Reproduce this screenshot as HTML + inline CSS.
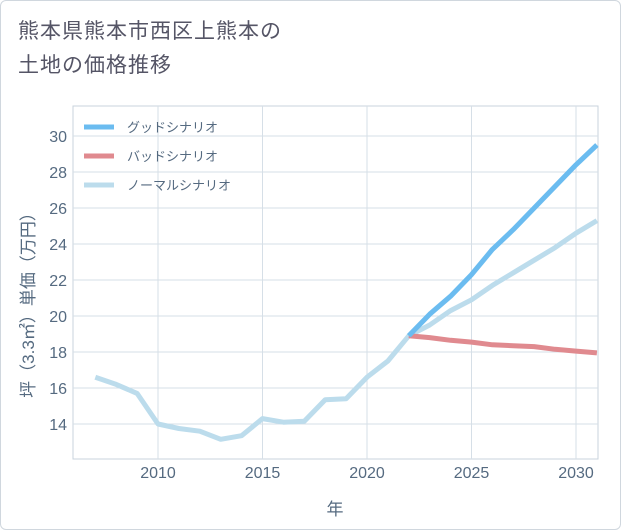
<!DOCTYPE html>
<html><head><meta charset="utf-8"><style>
body{margin:0;background:#fff;font-family:"Liberation Sans","Noto Sans CJK JP",sans-serif;}
#wrap{position:relative;width:619px;height:528px;border:1px solid #d0d7de;border-radius:6px;background:#fff;overflow:hidden}
#title{position:absolute;left:17px;top:14px;font-size:21px;line-height:34px;color:#556;letter-spacing:1px}
svg{position:absolute;left:0;top:0}
text{font-family:"Liberation Sans","Noto Sans CJK JP",sans-serif;fill:#556a80}
</style></head><body>
<div id="wrap">
<div id="title">熊本県熊本市西区上熊本の<br>土地の価格推移</div>
<svg id="chart" width="621" height="530"></svg>
</div>
<script>
const years=[2007,2008,2009,2010,2011,2012,2013,2014,2015,2016,2017,2018,2019,2020,2021,2022,2023,2024,2025,2026,2027,2028,2029,2030,2031];
const normalVals=[16.6,16.2,15.7,14.0,13.75,13.6,13.15,13.35,14.3,14.1,14.15,15.35,15.4,16.6,17.5,18.9,19.5,20.3,20.9,21.7,22.4,23.1,23.8,24.6,25.3];
const futureYears=[2022,2023,2024,2025,2026,2027,2028,2029,2030,2031];
const goodVals=[18.9,20.1,21.1,22.3,23.7,24.8,26.0,27.2,28.4,29.5];
const badVals=[18.9,18.8,18.65,18.55,18.4,18.35,18.3,18.15,18.05,17.95];
const xTicks=[2010,2015,2020,2025,2030];
const yTicks=[14,16,18,20,22,24,26,28,30];
const legendNames=["グッドシナリオ","バッドシナリオ","ノーマルシナリオ"];
const colors=["#6bbcf0","#e08a8f","#bcdcec"];
const L=72,R=597,T=105,B=458;
const X=y=>157+(y-2010)*20.9;
const Y=v=>423-(v-14)*18;
const svg=document.getElementById('chart');
const NS='http://www.w3.org/2000/svg';
function mk(tag,attrs,parent){const e=document.createElementNS(NS,tag);for(const k in attrs)e.setAttribute(k,attrs[k]);(parent||svg).appendChild(e);return e;}
// plot frame
let fr=mk('rect',{x:L,y:T,width:R-L,height:B-T,fill:'none',stroke:'#c9d3dc'});


for(const t of yTicks){
 let g=mk('line',{x1:L,x2:R,y1:Y(t),y2:Y(t),stroke:'#d6dfe7'});
 
 
 let tx=mk('text',{x:L-6,y:Y(t)+6,'text-anchor':'end','font-size':'16'});
 tx.textContent=t;
 
 
}
for(const t of xTicks){
 let g=mk('line',{x1:X(t),x2:X(t),y1:T,y2:B,stroke:'#d6dfe7'});
 
 
 let tx=mk('text',{x:X(t),y:477,'text-anchor':'middle','font-size':'16'});
 tx.textContent=t;
 
 
}
function line(xs,vs,c,name){
 const p=mk('polyline',{points:xs.map((x,i)=>X(x)+','+Y(vs[i])).join(' '),fill:'none',stroke:c,'stroke-width':5,'stroke-linejoin':'round'});
 
 
}
line(years,normalVals,colors[2],'normal-scenario-line');
line(futureYears,badVals,colors[1],'bad-scenario-line');
line(futureYears,goodVals,colors[0],'good-scenario-line');
legendNames.forEach((n,i)=>{
 const y=126+i*29;
 let l=mk('line',{x1:83,x2:113,y1:y,y2:y,stroke:colors[i],'stroke-width':5});
 
 
 let t=mk('text',{x:126,y:y+5,'font-size':'13'});
 t.textContent=n;
 
 
});
let xt=mk('text',{x:334,y:514,'text-anchor':'middle','font-size':'17'});
xt.textContent='年';


let yt=mk('text',{x:0,y:0,'text-anchor':'middle','font-size':'17',transform:'translate(33,300) rotate(-90)'});
yt.textContent='坪（3.3㎡）単価（万円）';


</script>
</body></html>
